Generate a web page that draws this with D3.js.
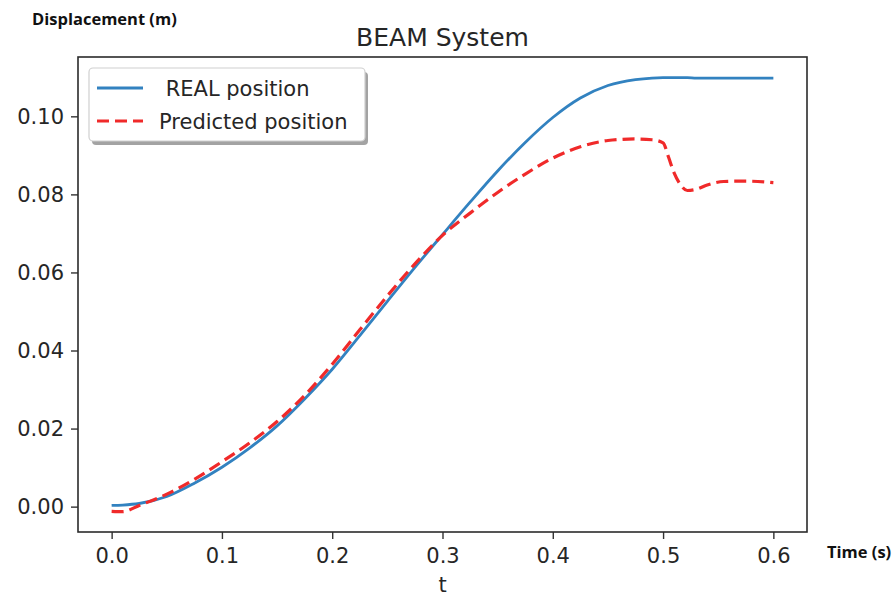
<!DOCTYPE html>
<html lang="en">
<head>
    <meta charset="UTF-8">
    <title>BEAM System</title>
    <script src="https://d3js.org/d3.v7.min.js"></script>
    <style>
        body{
            margin: 0;
            background: #fff;
        }
        .tick text{
            font-family: "DejaVu Sans", sans-serif;
            font-size: 21px;
            fill: #262626;
        }
        .note{
            font-family: "Open Sans", sans-serif;
            font-weight: bold;
            font-size: 16.5px;
            fill: #111;
        }
    </style>
</head>
<body>
<svg width="894" height="598"></svg>
<script>
    // time (s)
    const time = [0, 0.01, 0.025, 0.05, 0.075, 0.1, 0.125, 0.15, 0.175, 0.2, 0.225, 0.25, 0.275, 0.3,
        0.325, 0.35, 0.375, 0.4, 0.425, 0.45, 0.475, 0.49, 0.5, 0.505, 0.51, 0.515, 0.522, 0.53,
        0.54, 0.555, 0.575, 0.6];
    // REAL position (m)
    const real = [0.0003, 0.0004, 0.0008, 0.0026, 0.0060, 0.0101, 0.0150, 0.0207, 0.0276, 0.0352,
        0.0438, 0.0526, 0.0613, 0.0697, 0.0780, 0.0860, 0.0933, 0.0997, 0.1047, 0.1079, 0.1094,
        0.1098, 0.1099, 0.1099, 0.1099, 0.1099, 0.1099, 0.1098, 0.1098, 0.1098, 0.1098, 0.1098];
    // Predicted position (m)
    const predicted = [-0.0012, -0.0013, 0.0003, 0.0032, 0.0070, 0.0115, 0.0163, 0.0218, 0.0285,
        0.0365, 0.0453, 0.0540, 0.0622, 0.0695, 0.0752, 0.0805, 0.0852, 0.0893, 0.0922, 0.0938,
        0.0942, 0.0940, 0.0932, 0.0895, 0.0855, 0.0828, 0.0810, 0.0813, 0.0824, 0.0833, 0.0834, 0.0830];

    const xTicks = [0, 0.1, 0.2, 0.3, 0.4, 0.5, 0.6];
    const yTicks = [0, 0.02, 0.04, 0.06, 0.08, 0.10];
    const xLimits = [-0.0305, 0.6305];
    const yLimits = [-0.0065, 0.1152];

    const svg = d3.select('svg');
    const plotL = 78, plotR = 807, plotT = 57, plotB = 532;

    const x = d3.scaleLinear().domain(xLimits).range([plotL, plotR]);
    const y = d3.scaleLinear().domain(yLimits).range([plotB, plotT]);

    //------ axes ------
    const xAxis = svg.append('g')
        .attr('transform', `translate(0,${plotB})`)
        .call(d3.axisBottom(x).tickValues(xTicks).tickFormat(d3.format('.1f'))
            .tickSize(7).tickPadding(6).tickSizeOuter(0));
    const yAxis = svg.append('g')
        .attr('transform', `translate(${plotL},0)`)
        .call(d3.axisLeft(y).tickValues(yTicks).tickFormat(d3.format('.2f'))
            .tickSize(7).tickPadding(7).tickSizeOuter(0));
    svg.selectAll('.domain').remove();
    svg.selectAll('.tick line').attr('stroke', '#333').attr('stroke-width', 1.4);
    xAxis.selectAll('text').attr('dy', '0.85em');

    //------ lines ------
    const rows = time.map((t, i) => ({t: t, real: real[i], pred: predicted[i]}));
    const lineReal = d3.line().x(d => x(d.t)).y(d => y(d.real)).curve(d3.curveMonotoneX);
    const linePred = d3.line().x(d => x(d.t)).y(d => y(d.pred)).curve(d3.curveMonotoneX);

    svg.append('path').datum(rows)
        .attr('d', lineReal)
        .attr('fill', 'none')
        .attr('stroke', '#3282c0')
        .attr('stroke-width', 2.8);
    svg.append('path').datum(rows)
        .attr('d', linePred)
        .attr('fill', 'none')
        .attr('stroke', '#f02a2a')
        .attr('stroke-width', 3.2)
        .attr('stroke-dasharray', '12,6');

    // frame
    svg.append('rect')
        .attr('x', plotL).attr('y', plotT)
        .attr('width', plotR - plotL).attr('height', plotB - plotT)
        .attr('fill', 'none').attr('stroke', '#2b2b2b').attr('stroke-width', 1.6);

    //------ legend ------
    const lg = svg.append('g');
    lg.append('rect')
        .attr('x', 92).attr('y', 72).attr('width', 276).attr('height', 73)
        .attr('rx', 4).attr('fill', '#8c8c8c').attr('opacity', 0.8);
    lg.append('rect')
        .attr('x', 89).attr('y', 68).attr('width', 276).attr('height', 73)
        .attr('rx', 4).attr('fill', '#fff').attr('stroke', '#d0d0d0').attr('stroke-width', 1.2);
    const entries = [
        {label: '\u00a0REAL position', color: '#3282c0', dash: null, w: 2.8},
        {label: 'Predicted position', color: '#f02a2a', dash: '12,6', w: 3.2}
    ];
    entries.forEach((e, i) => {
        const cy = 88 + i * 33;
        lg.append('line')
            .attr('x1', 97).attr('x2', 143).attr('y1', cy).attr('y2', cy)
            .attr('stroke', e.color).attr('stroke-width', e.w)
            .attr('stroke-dasharray', e.dash);
        lg.append('text')
            .attr('x', 159).attr('y', cy).attr('dy', '0.36em')
            .attr('font-family', '"DejaVu Sans", sans-serif')
            .attr('font-size', 21).attr('fill', '#262626')
            .text(e.label);
    });

    //------ texts ------
    svg.append('text')
        .attr('x', (plotL + plotR) / 2).attr('y', 46)
        .attr('text-anchor', 'middle')
        .attr('font-family', '"DejaVu Sans", sans-serif')
        .attr('font-size', 25).attr('fill', '#262626')
        .text('BEAM System');
    svg.append('text')
        .attr('x', (plotL + plotR) / 2).attr('y', 592)
        .attr('text-anchor', 'middle')
        .attr('font-family', '"DejaVu Sans", sans-serif')
        .attr('font-size', 21).attr('fill', '#262626')
        .text('t');
    svg.append('text').attr('class', 'note')
        .attr('x', 32).attr('y', 25)
        .text('Displacement (m)');
    svg.append('text').attr('class', 'note')
        .attr('x', 827).attr('y', 558)
        .text('Time (s)');
</script>
</body>
</html>
